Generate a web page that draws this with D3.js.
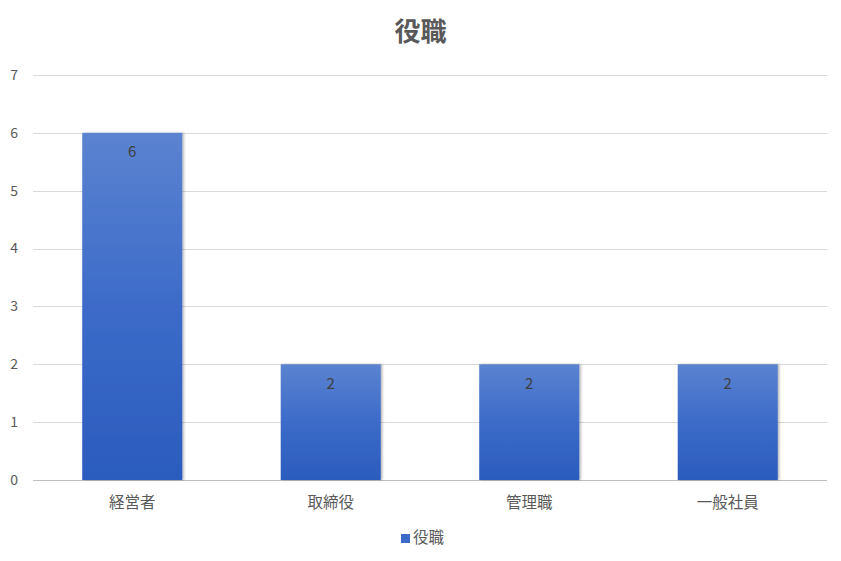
<!DOCTYPE html>
<html><head><meta charset="utf-8">
<script src="https://cdn.jsdelivr.net/npm/d3@7"></script>
<style>body{margin:0;background:#fff;}svg{display:block;font-family:"Noto Sans CJK JP","Noto Sans",sans-serif;}</style>
</head><body>
<script>
const categories = ["経営者","取締役","管理職","一般社員"];
const values = [6,2,2,2];
const seriesName = "役職";
const yTicks = [0,1,2,3,4,5,6,7];

(function(){
const W=841,H=561;
const svg=d3.select("body").append("svg").attr("width",W).attr("height",H);
const defs=svg.append("defs");
const g=defs.append("linearGradient").attr("id","bg").attr("x1",0).attr("y1",0).attr("x2",0).attr("y2",1);
g.append("stop").attr("offset","0%").attr("stop-color","#5b83d0");
g.append("stop").attr("offset","50%").attr("stop-color","#3c6bc9");
g.append("stop").attr("offset","100%").attr("stop-color","#2b5cbe");
const f=defs.append("filter").attr("id","sh").attr("x","-10%").attr("y","-10%").attr("width","130%").attr("height","130%");
f.append("feDropShadow").attr("dx",1.5).attr("dy",0).attr("stdDeviation",1.2).attr("flood-color","#000").attr("flood-opacity",0.3);

const pL=33,pR=827,pT=75,pB=480;
const x=d3.scaleBand().domain(categories).range([pL,pR]).paddingInner(0.496).paddingOuter(0.248);
const y=d3.scaleLinear().domain([0,7]).range([pB,pT]);

svg.append("g").selectAll("line").data(yTicks).join("line")
 .attr("x1",pL).attr("x2",pR).attr("y1",d=>Math.round(y(d))+0.5).attr("y2",d=>Math.round(y(d))+0.5)
 .attr("stroke",d=>d===0?"#bfbfbf":"#d9d9d9").attr("stroke-width",1);

svg.append("g").selectAll("text").data(yTicks).join("text")
 .attr("x",18).attr("y",d=>y(d)).attr("dy","0.35em").attr("text-anchor","end")
 .attr("fill","#595959").attr("font-size",14).text(d=>d);

svg.append("g").selectAll("rect").data(values).join("rect")
 .attr("x",(d,i)=>x(categories[i])).attr("width",x.bandwidth())
 .attr("y",d=>y(d)).attr("height",d=>y(0)-y(d))
 .attr("fill","url(#bg)").attr("filter","url(#sh)");

svg.append("g").selectAll("text").data(values).join("text")
 .attr("x",(d,i)=>x(categories[i])+x.bandwidth()/2).attr("y",d=>y(d)+19)
 .attr("dy","0.35em").attr("text-anchor","middle").attr("fill","#404040").attr("font-size",15).text(d=>d);

svg.append("g").selectAll("text").data(categories).join("text")
 .attr("x",d=>x(d)+x.bandwidth()/2).attr("y",503).attr("dy","0.35em").attr("text-anchor","middle")
 .attr("fill","#595959").attr("font-size",15.5).text(d=>d);

svg.append("text").attr("x",420.5).attr("y",32).attr("dy","0.35em").attr("text-anchor","middle")
 .attr("fill","#595959").attr("font-size",26).attr("font-weight","bold").text(seriesName);

svg.append("rect").attr("x",401).attr("y",534).attr("width",9).attr("height",9).attr("fill","#3c6bc9");
svg.append("text").attr("x",413).attr("y",538).attr("dy","0.35em").attr("fill","#595959").attr("font-size",15.5).text(seriesName);
})();
</script>
</body></html>
